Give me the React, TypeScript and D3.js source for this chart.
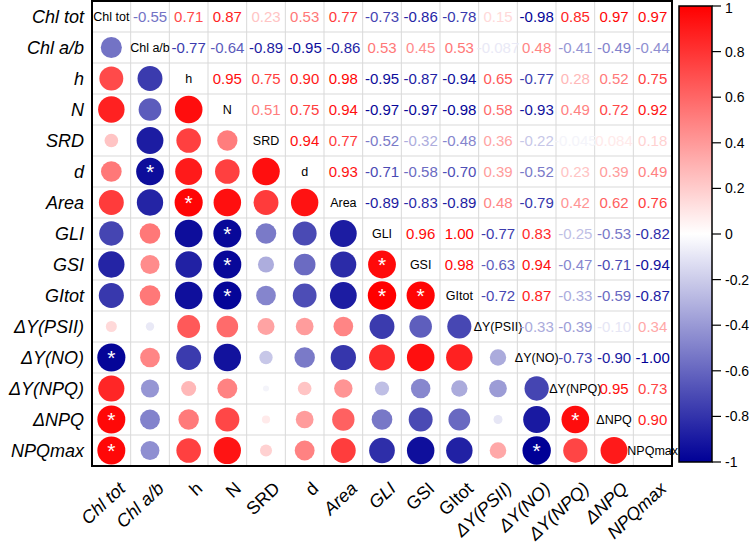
import React from "react";
import * as d3 from "d3";

const variables = [
  "Chl tot", "Chl a/b", "h", "N", "SRD", "d", "Area", "GLI", "GSI", "GItot",
  "ΔY(PSII)", "ΔY(NO)", "ΔY(NPQ)", "ΔNPQ", "NPQmax",
];
const italicXLabels = [true, true, false, false, false, false, true, true, false, false, true, true, true, true, true];

// upper triangle, row by row (values right of the diagonal)
const rowChlTot = [-0.55, 0.71, 0.87, 0.23, 0.53, 0.77, -0.73, -0.86, -0.78, 0.15, -0.98, 0.85, 0.97, 0.97];
const rowChlAB = [-0.77, -0.64, -0.89, -0.95, -0.86, 0.53, 0.45, 0.53, -0.087, 0.48, -0.41, -0.49, -0.44];
const rowH = [0.95, 0.75, 0.9, 0.98, -0.95, -0.87, -0.94, 0.65, -0.77, 0.28, 0.52, 0.75];
const rowN = [0.51, 0.75, 0.94, -0.97, -0.97, -0.98, 0.58, -0.93, 0.49, 0.72, 0.92];
const rowSRD = [0.94, 0.77, -0.52, -0.32, -0.48, 0.36, -0.22, -0.045, 0.084, 0.18];
const rowD = [0.93, -0.71, -0.58, -0.7, 0.39, -0.52, 0.23, 0.39, 0.49];
const rowArea = [-0.89, -0.83, -0.89, 0.48, -0.79, 0.42, 0.62, 0.76];
const rowGLI = [0.96, 1.0, -0.77, 0.83, -0.25, -0.53, -0.82];
const rowGSI = [0.98, -0.63, 0.94, -0.47, -0.71, -0.94];
const rowGItot = [-0.72, 0.87, -0.33, -0.59, -0.87];
const rowYPSII = [-0.33, -0.39, -0.1, 0.34];
const rowYNO = [-0.73, -0.9, -1.0];
const rowYNPQ = [0.95, 0.73];
const rowDNPQ = [0.9];
const rowNPQmax: number[] = [];
const upperRows = [rowChlTot, rowChlAB, rowH, rowN, rowSRD, rowD, rowArea, rowGLI, rowGSI, rowGItot, rowYPSII, rowYNO, rowYNPQ, rowDNPQ, rowNPQmax];

// significant pairs [row, column] marked with * in the lower triangle
const significantPairs: [string, string][] = [
  ["d", "Chl a/b"], ["Area", "h"], ["GLI", "N"], ["GSI", "N"], ["GItot", "N"],
  ["GSI", "GLI"], ["GItot", "GLI"], ["GItot", "GSI"], ["ΔY(NO)", "Chl tot"],
  ["ΔNPQ", "Chl tot"], ["NPQmax", "Chl tot"], ["ΔNPQ", "ΔY(NPQ)"], ["NPQmax", "ΔY(NO)"],
];
const colorbarTicks = [1, 0.8, 0.6, 0.4, 0.2, 0, -0.2, -0.4, -0.6, -0.8, -1];

const W = 749, H = 550;
const gx0 = 92, gx1 = 672, gy0 = 1, gy1 = 466;
const cbX = 679, cbW = 33, cbY0 = 6, cbY1 = 462;

function corr(i: number, j: number): number {
  if (i === j) return 1;
  if (i < j) return upperRows[i][j - i - 1];
  return upperRows[j][i - j - 1];
}
function fmt(v: number): string {
  if (Math.abs(v) < 0.095 && v !== 0) return String(+v.toPrecision(2));
  return v.toFixed(2);
}

export default function App() {
  const x = d3.scaleBand<string>().domain(variables).range([gx0, gx1]).padding(0);
  const y = d3.scaleBand<string>().domain(variables).range([gy0, gy1]).padding(0);
  const color = d3.scaleLinear<string>().domain([-1, 0, 1]).range(["#000096", "#ffffff", "#ff0000"]).interpolate(d3.interpolateRgb);
  const radius = d3.scaleSqrt().domain([0, 1]).range([0, 14.2]);
  const cbScale = d3.scaleLinear().domain([1, -1]).range([cbY0, cbY1]);
  const bw = x.bandwidth(), bh = y.bandwidth();
  const starSet = new Set(significantPairs.map(([r, c]) => r + "|" + c));
  const gradStops = d3.range(0, 1.0001, 0.05);

  const cells: React.ReactNode[] = [];
  variables.forEach((rv, i) => {
    variables.forEach((cv, j) => {
      const v = corr(i, j);
      const cx = (x(cv) as number) + bw / 2;
      const cy = (y(rv) as number) + bh / 2;
      const key = i + "-" + j;
      if (i === j) {
        cells.push(
          <text key={key} x={cx} y={cy} textAnchor="middle" dominantBaseline="central" fontSize={12.5} fill="#000" fontFamily="Liberation Sans, Arial, sans-serif">{rv}</text>
        );
      } else if (j > i) {
        cells.push(
          <text key={key} x={cx} y={cy} textAnchor="middle" dominantBaseline="central" fontSize={15} fill={color(v)} fontFamily="Liberation Sans, Arial, sans-serif">{fmt(v)}</text>
        );
      } else {
        cells.push(<circle key={key} cx={cx} cy={cy} r={radius(Math.abs(v))} fill={color(v)} />);
        if (starSet.has(rv + "|" + cv)) {
          cells.push(
            <text key={key + "s"} x={cx} y={cy + 7} textAnchor="middle" fontSize={21} fill="#fff" fontFamily="Liberation Sans, Arial, sans-serif">*</text>
          );
        }
      }
    });
  });

  return (
    <svg width={W} height={H} style={{ position: "absolute", left: 0, top: 0, background: "#fff" }} fontFamily="Liberation Sans, Arial, sans-serif">
      <defs>
        <linearGradient id="cbgrad" x1="0" y1="0" x2="0" y2="1">
          {gradStops.map((t) => (
            <stop key={t} offset={t} stopColor={color(1 - 2 * t)} />
          ))}
        </linearGradient>
      </defs>
      <rect x={0} y={0} width={W} height={H} fill="#fff" />
      {/* grid lines */}
      {variables.map((v, k) => (
        <line key={"vx" + k} x1={x(v)} x2={x(v)} y1={gy0} y2={gy1} stroke="#d9d9d9" strokeWidth={1} />
      ))}
      {variables.map((v, k) => (
        <line key={"hy" + k} x1={gx0} x2={gx1} y1={y(v)} y2={y(v)} stroke="#d9d9d9" strokeWidth={1} />
      ))}
      {cells}
      <rect x={gx0} y={gy0} width={gx1 - gx0} height={gy1 - gy0} fill="none" stroke="#000" strokeWidth={2} />
      {/* row labels */}
      {variables.map((v) => (
        <text key={"rl" + v} x={84} y={(y(v) as number) + bh / 2} textAnchor="end" dominantBaseline="central" fontSize={18} fontStyle="italic" fill="#000">{v}</text>
      ))}
      {/* column labels */}
      {variables.map((v, k) => {
        const ax = (x(v) as number) + bw / 2 + 15;
        const ay = 490;
        return (
          <text key={"cl" + v} transform={`translate(${ax},${ay}) rotate(-43)`} textAnchor="end" fontSize={18} fontStyle={italicXLabels[k] ? "italic" : "normal"} fill="#000">{v}</text>
        );
      })}
      {/* colorbar */}
      <rect x={cbX} y={cbY0} width={cbW} height={cbY1 - cbY0} fill="url(#cbgrad)" stroke="#000" strokeWidth={1.5} />
      {colorbarTicks.map((t) => (
        <g key={"cb" + t}>
          <line x1={cbX + cbW} x2={cbX + cbW + 9} y1={cbScale(t)} y2={cbScale(t)} stroke="#000" strokeWidth={1.2} />
          <text x={cbX + cbW + 13} y={Math.max(cbScale(t), 8)} dominantBaseline="central" fontSize={14} fill="#000">{String(+t.toFixed(1))}</text>
        </g>
      ))}
    </svg>
  );
}
